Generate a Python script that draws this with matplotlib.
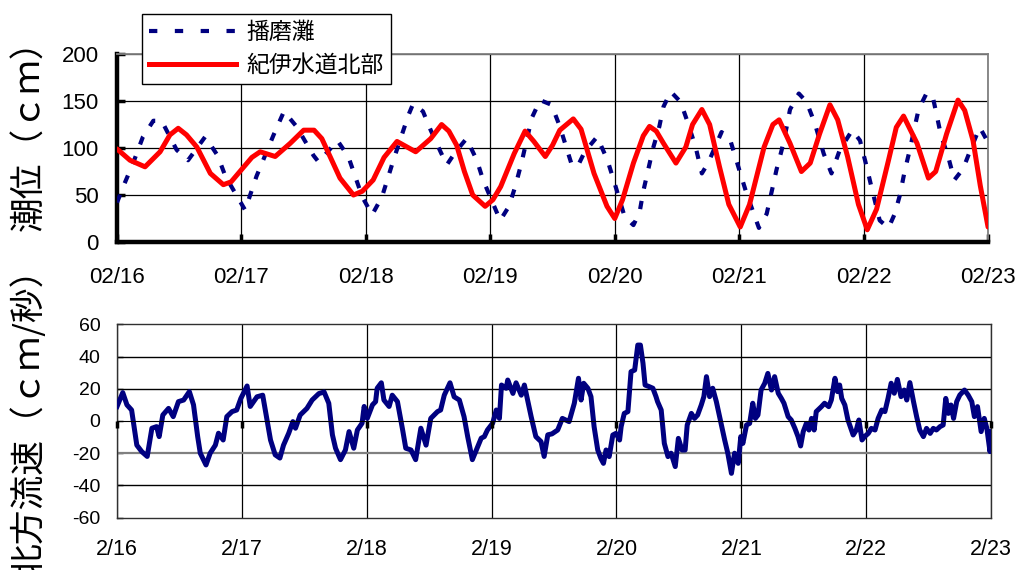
import matplotlib
matplotlib.use("Agg")
import matplotlib.pyplot as plt
from matplotlib.lines import Line2D

# ---- data -------------------------------------------------------------
tick_hours = [0, 24, 48, 72, 96, 120, 144, 168]
top_day_labels = ["02/16", "02/17", "02/18", "02/19", "02/20", "02/21", "02/22", "02/23"]
bottom_day_labels = ["2/16", "2/17", "2/18", "2/19", "2/20", "2/21", "2/22", "2/23"]
tide_ticks = [0, 50, 100, 150, 200]
tide_tick_labels = ["0", "50", "100", "150", "200"]
flow_ticks = [-60, -40, -20, 0, 20, 40, 60]
flow_tick_labels = ["-60", "-40", "-20", "0", "20", "40", "60"]

# tide level, Harima-nada (hours from 2/16 00:00, cm)
harima_h = [0, 1.2, 3.1, 5, 7, 8.6, 11.5, 13.7, 17, 19.4, 20.9, 24.7, 26.9, 30.2, 32.2,
            34.6, 37.9, 38.9, 42.5, 44.6, 47.3, 49.2, 51.1, 53.3, 56.2, 57.1, 59, 60.5,
            62.4, 63.6, 65.3, 67.4, 69.4, 70.6, 73.9, 75.6, 76.8, 78, 80, 81.6, 83.8,
            85.4, 87.6, 88.8, 90.2, 92.6, 94.6, 96, 97.9, 99.6, 100.8, 101.5, 103.4,
            104.6, 105.4, 106.8, 108.7, 109.9, 111.6, 112.8, 114, 116.6, 118.3, 120,
            121.4, 123.8, 125.3, 126.2, 127.2, 128.2, 129.1, 129.8, 131.5, 133, 134.6,
            136.3, 137.8, 139.4, 141.8, 143.3, 144.5, 145.4, 147.1, 148.8, 150, 151,
            151.9, 152.9, 153.8, 154.6, 156.2, 157.4, 158.9, 160.3, 161.5, 163.2, 164.6,
            166.4, 168]
harima_cm = [42, 59, 84, 112, 129, 129, 98, 87, 112, 92, 70, 34, 70, 114, 139,
             123, 92, 85, 108, 91, 48, 29, 48, 87, 135, 147, 139, 119,
             96, 82, 96, 110, 87, 66, 23, 38, 59, 84, 132, 151, 146,
             123, 84, 80, 96, 112, 87, 62, 27, 18, 32, 54, 100,
             123, 144, 160, 149, 130, 101, 73, 84, 117, 108, 77,
             52, 15, 30, 52, 77, 98, 121, 141, 158, 149, 126,
             94, 73, 98, 119, 108, 82, 61, 23, 15, 30, 50,
             75, 98, 121, 141, 159, 153, 114, 91, 66, 78, 98,
             122, 106]

# tide level, northern Kii Channel (hours, cm)
kii_h = [0, 2.5, 5.4, 8.3, 10.2, 11.8, 13.4, 15.4, 18, 20.5, 22, 24, 26, 27.6, 30.5,
         33.4, 36, 38, 39.5, 41, 43, 45.6, 47.3, 49.4, 51.5, 54, 57.6, 60.5, 62.6, 64,
         65.5, 67, 68.6, 71, 72.5, 74, 76.6, 78.7, 80.4, 82.6, 84, 85.4, 88, 89.5, 92,
         94.5, 96, 97.5, 99.6, 101.5, 102.7, 104, 105.4, 107.8, 109.7, 111, 112.8,
         114.3, 116.2, 118, 120.2, 122, 124.8, 126.5, 127.7, 129.8, 132, 133.7, 135.5,
         137.5, 139, 140.9, 143, 144.7, 146.5, 148.8, 150.3, 151.7, 154.3, 156.5,
         157.9, 160, 162.2, 163.5, 165.1, 166.5, 168]
kii_cm = [99, 87, 80, 96, 114, 121, 114, 101, 73, 61, 64, 77, 90, 96, 91,
          105, 119, 119, 110, 92, 68, 50, 54, 66, 90, 107, 96, 110, 125, 118,
          103, 75, 50, 38, 45, 59, 94, 118, 107, 91, 103, 119, 131, 120, 73,
          38, 25, 45, 84, 113, 123, 118, 105, 84, 101, 125, 141,
          125, 80, 40, 16, 40, 101, 125, 130, 105, 75, 84, 115,
          146, 130, 91, 40, 13, 35, 87, 122, 134, 105, 68,
          75, 115, 151, 140, 108, 60, 16]

# northward current speed (hours, cm/s)
flow_h = [0, 1.1, 1.9, 2.8, 3.8, 4.75, 5.8, 6.7, 7.6, 8.1, 8.8, 9.9, 10.8, 11.8, 12.8,
          13.9, 14.7, 15.5, 16.0, 17.1, 17.9, 18.9, 19.5, 20.4, 21.1, 22.1, 23.0, 23.8,
          25.0, 25.6, 26.9, 28.0, 28.5, 29.5, 30.4, 31.3, 32.0, 33.0, 33.8, 34.3, 35.2,
          36.5, 37.5, 38.8, 39.8, 40.7, 41.4, 42.0, 42.95, 43.9, 44.6, 45.5, 46.2, 47.1,
          47.5, 48.1, 49.1, 49.7, 50.0, 50.8, 51.3, 52.3, 52.9, 53.9, 54.9, 55.5, 56.5,
          57.4, 58.4, 59.4, 60.3, 61.6, 62.2, 62.9, 64.0, 64.8, 65.8, 66.7, 67.4, 68.3,
          69.2, 70.0, 70.6, 71.2, 72.2, 72.9, 73.5, 73.9, 74.8, 75.1, 76.1, 76.7, 77.7,
          78.3, 79.6, 80.5, 81.5, 82.1, 82.8, 83.6, 84.7, 85.6, 86.9, 87.9, 88.7, 89.2,
          89.7, 90.5, 91.1, 91.7, 92.4, 93.0, 93.5, 94.0, 94.6, 95.3, 95.9, 96.6, 96.9,
          97.5, 98.2, 98.8, 99.5, 100.1, 100.6, 101.1, 101.5, 102.3, 103.0, 103.6,
          103.9, 104.6, 105.2, 105.9, 106.5, 107.3, 107.9, 108.6, 109.2, 109.6, 110.4,
          111.0, 111.6, 112.3, 112.8, 113.3, 113.9, 114.5, 115.2, 116.1, 116.8, 117.4,
          118.1, 118.7, 119.4, 119.9, 120.3, 121.0, 121.6, 122.2, 122.7, 123.2, 123.8,
          124.5, 125.1, 125.8, 126.4, 127.1, 127.7, 128.2, 129.0, 129.6, 130.3, 130.9,
          131.4, 131.9, 132.5, 133.0, 133.5, 134.0, 134.4, 135.4, 136.0, 136.8, 137.3,
          138.0, 138.5, 138.9, 139.3, 139.9, 140.5, 141.5, 142.1, 142.6, 143.2, 143.7,
          144.4, 145.0, 145.7, 146.3, 147.0, 147.6, 148.2, 148.8, 149.4, 150.0, 150.7,
          151.3, 151.8, 152.4, 153.1, 153.7, 154.3, 155.0, 155.6, 156.3, 156.9, 157.5,
          158.2, 158.8, 159.3, 159.8, 160.3, 160.8, 161.4, 162.0, 162.9, 163.6, 164.3,
          164.8, 165.4, 166.1, 166.7, 167.2, 167.8, 168.0]
flow_cms = [9, 17.6, 10, 6.8, -15, -19, -22, -4.5, -3.5, -9.7, 3.7, 7.8, 2.7, 12, 13,
            18.2, 10, -9.7, -20, -27.3, -20, -15, -7.6, -11.8, 2.7, 5.8, 6.8, 14,
            21.7, 9, 15, 16, 6.8, -11.8, -21, -23, -15, -7.6, -0.4, -4.5, 3.7,
            7.8, 13, 17, 18, 11, -8.6, -16.9, -24, -18, -6.6, -16.9, -5.6, -1.4,
            9, 1.6, 10, 12, 20.3, 23.7, 13, 9, 16, 12, -5.6, -16.9, -18,
            -24, -4.5, -15, 1.6, 5.8, 6.8, 16, 23.7, 15, 13, 2.7, -9.7, -24,
            -16.9, -10.7, -9.7, -5.6, -1.4, 6.8, 1.6, 22.3, 20.3, 25.4, 17.1, 23.7, 16,
            22.3, 2.7, -9.7, -12.8, -22, -8.6, -8, -5.6, 1.6, -0.4, 11, 26.5, 13,
            23.4, 20.3, 15.1, -3.5, -18, -23.2, -26.3, -18, -22.1, -8.7, -7.7, -11.8, -3.5,
            4.7, 5.8, 30.6, 31.6, 47.1, 47.1, 35.8, 22.3, 21.3, 20.3, 15.1,
            12, 6.8, -13.9, -22.1, -20, -28.3, -10.8, -18, -18, -2.5, 4.7,
            1.6, 3.7, 9.9, 15.1, 27.5, 15.1, 20.3, 12, -1.5, -11.8, -20,
            -32.5, -20, -26.3, -9.7, -13.9, -2.5, -1.5, 11, 1.6, 3.7, 19.2,
            23.4, 29.5, 19.2, 27.5, 17.2, 14, 11, 2.7, 0.6, -4.6, -9.7,
            -15.5, -6.6, -1.5, -5.6, 1.6, -5.6, 5.8, 8.9, 11, 8.9, 13,
            26.5, 18.2, 22.3, 14, 9.9, 0.6, -8.7, -5.6, 0.6, -11.8, -9.7,
            -7.7, -4.6, -5.6, 1.6, 6.8, 5.8, 14, 23.4, 17.2, 25.8, 15.1,
            19.2, 13, 23.8, 12, 2.7, -5.6, -9.7, -4.6, -7.7, -4.6, -5.6,
            -3.5, -2.5, 14, 4.7, 9.9, 1.6, 12, 16.1, 19.2, 16.1, 12,
            2.7, 8.9, -6.6, 1.6, -4.6, -19, -6.6]

# ---- styling ----------------------------------------------------------
cjk = ["Noto Sans CJK JP", "DejaVu Sans"]
num_font = "Liberation Sans"
navy = "#000080"
red = "#FF0000"
grey = "#808080"

fig = plt.figure(figsize=(10.24, 5.70), dpi=100)
fig.patch.set_facecolor("white")

# ---- upper panel: tide level -----------------------------------------
ax1 = fig.add_axes([0.1143, 0.5754, 0.8506, 0.3298])
ax1.plot(harima_h, harima_cm, color=navy, lw=3.0, linestyle=(0, (2, 3)),
         dash_capstyle="butt", zorder=3)
ax1.plot(kii_h, kii_cm, color=red, lw=3.6, solid_joinstyle="round",
         solid_capstyle="round", zorder=4)
ax1.set_xlim(tick_hours[0], tick_hours[-1])
ax1.set_ylim(tide_ticks[0], tide_ticks[-1])
ax1.set_xticks(tick_hours)
ax1.set_xticklabels(top_day_labels, fontsize=16, family=num_font)
ax1.set_yticks(tide_ticks)
ax1.set_yticklabels(tide_tick_labels, fontsize=16, family=num_font)
ax1.grid(True, color="black", lw=0.9, zorder=1)
ax1.set_axisbelow(True)
for side in ("left", "bottom"):
    ax1.spines[side].set_linewidth(3.2)
    ax1.spines[side].set_color("black")
for side in ("top", "right"):
    ax1.spines[side].set_linewidth(1.3)
    ax1.spines[side].set_color(grey)
ax1.tick_params(axis="x", direction="in", length=6, width=2.5, pad=18, color="black")
ax1.tick_params(axis="y", direction="in", length=6, width=2.5, pad=13, color="black")

fig.text(0.0295, 0.777, "潮位（ｃｍ）", rotation=90, ha="center", va="center",
         fontsize=25, family=cjk)

# legend
handles = [
    Line2D([], [], color=navy, lw=3.0, linestyle=(0, (2, 4.2)), dash_capstyle="butt"),
    Line2D([], [], color=red, lw=3.6),
]
leg = fig.legend(handles, ["播磨灘", "紀伊水道北部"], loc="upper left",
                 bbox_to_anchor=(142 / 1024, 1 - 14 / 570), borderaxespad=0,
                 prop={"family": cjk, "size": 16.5}, frameon=True, fancybox=False,
                 edgecolor="black", facecolor="white", framealpha=1,
                 handlelength=3.8, handletextpad=0.45, labelspacing=0.42,
                 borderpad=0.32)
leg.get_frame().set_linewidth(1.0)

# ---- lower panel: northward current ----------------------------------
ax2 = fig.add_axes([0.1143, 0.0918, 0.8535, 0.3393])
ax2.plot(flow_h, flow_cms, color=navy, lw=3.6, solid_joinstyle="round", zorder=3)
ax2.set_xlim(tick_hours[0], tick_hours[-1])
ax2.set_ylim(flow_ticks[0], flow_ticks[-1])
ax2.set_xticks(tick_hours)
ax2.set_xticklabels(bottom_day_labels, fontsize=15.5, family=num_font)
ax2.set_yticks(flow_ticks)
ax2.set_yticklabels(flow_tick_labels, fontsize=14, family=num_font)
ax2.grid(True, axis="x", color="black", lw=0.9, zorder=1)
for yv in flow_ticks[1:-1]:
    if yv == 0:
        continue
    ax2.axhline(yv, color=grey if yv == -20 else "black", lw=1.0 if yv != -20 else 1.6,
                zorder=1)
ax2.set_axisbelow(True)
for side in ("left", "bottom", "top", "right"):
    ax2.spines[side].set_linewidth(1.0)
    ax2.spines[side].set_color("#303030")
ax2.tick_params(axis="x", length=0, pad=15)
ax2.tick_params(axis="y", direction="in", length=4, width=1, pad=12)

# zero axis with day ticks
zero_axis = ax2.secondary_xaxis(0.5)
zero_axis.set_xticks(tick_hours)
zero_axis.tick_params(axis="x", direction="in", length=5, width=2.5,
                      labelbottom=False, labeltop=False, color="black")
zero_axis.spines["bottom"].set_linewidth(3.4)
zero_axis.spines["bottom"].set_color("black")
zero_axis.set_zorder(4)

fig.text(0.028, 0.2737, "北方流速（ｃｍ/秒）", rotation=90, ha="center", va="center",
         fontsize=25, family=cjk)

fig.savefig("out.png", dpi=100, facecolor="white")
